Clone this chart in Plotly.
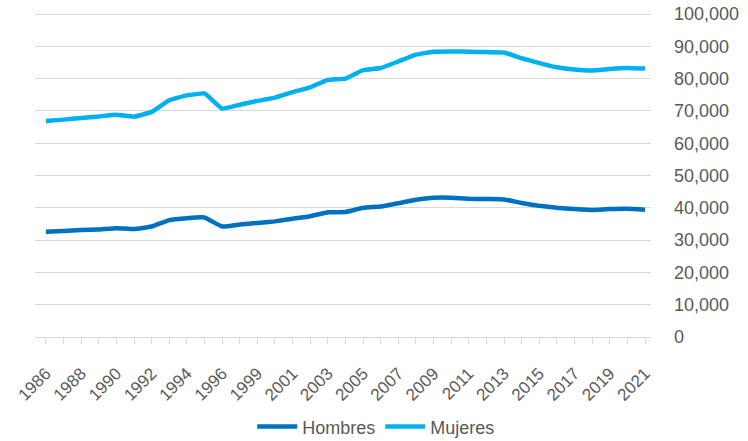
import plotly.graph_objects as go

years = [1986, 1987, 1988, 1989, 1990, 1991, 1992, 1993, 1994, 1995, 1996,
         1998, 1999, 2000, 2001, 2002, 2003, 2004, 2005, 2006, 2007, 2008,
         2009, 2010, 2011, 2012, 2013, 2014, 2015, 2016, 2017, 2018, 2019,
         2020, 2021]

hombres = [32600, 32800, 33100, 33300, 33700, 33400, 34200, 36200, 36800, 37000,
           34200, 34800, 35300, 35800, 36600, 37400, 38600, 38700, 40000, 40400,
           41400, 42500, 43100, 43100, 42800, 42700, 42600, 41500, 40600, 40000,
           39600, 39300, 39600, 39700, 39400]

mujeres = [66900, 67300, 67800, 68300, 68800, 68200, 69700, 73300, 74800, 75400,
           70700, 71900, 73100, 74100, 75800, 77300, 79600, 80000, 82600, 83300,
           85300, 87400, 88300, 88400, 88300, 88200, 88100, 86300, 84800, 83500,
           82800, 82500, 83000, 83300, 83100]

y_ticks = [0, 10000, 20000, 30000, 40000, 50000, 60000, 70000, 80000, 90000, 100000]

color_h = "#0070C0"
color_m = "#00B0F0"
text_color = "#595959"
grid_color = "#D9D9D9"
font_family = "Liberation Sans, Arial, sans-serif"

x_labels = [str(y) for y in years]
tick_text = [lab if i % 2 == 0 else "" for i, lab in enumerate(x_labels)]

fig = go.Figure()
fig.add_trace(go.Scatter(x=x_labels, y=hombres, mode="lines", name="Hombres",
                         line=dict(color=color_h, width=4.5, shape="spline", smoothing=0.3)))
fig.add_trace(go.Scatter(x=x_labels, y=mujeres, mode="lines", name="Mujeres",
                         line=dict(color=color_m, width=4.5, shape="spline", smoothing=0.3)))

fig.update_layout(
    width=748, height=441,
    margin=dict(l=35, r=97, t=12, b=104, autoexpand=False),
    paper_bgcolor="white", plot_bgcolor="white",
    font=dict(family=font_family, color=text_color),
    showlegend=True,
    legend=dict(orientation="h", xref="container", yref="container",
                x=0.503, xanchor="center", y=0.032, yanchor="middle",
                font=dict(size=18, color=text_color),
                itemwidth=40, tracegroupgap=0),
    xaxis=dict(type="category", categoryorder="array", categoryarray=x_labels,
               range=[-0.62, len(years) - 1 + 0.34], automargin=False,
               tickmode="array", tickvals=x_labels, ticktext=tick_text,
               tickangle=-45, tickfont=dict(size=17, color=text_color),
               ticks="outside", ticklen=6, tickcolor=grid_color, tickwidth=1,
               showgrid=False, showline=True, linecolor=grid_color, linewidth=1,
               zeroline=False, ticklabelstandoff=13),
    yaxis=dict(side="right", range=[0, 100620], tickvals=y_ticks, automargin=False,
               tickformat=",d", tickfont=dict(size=18, color=text_color),
               ticklabeloverflow="allow",
               showgrid=True, gridcolor=grid_color, gridwidth=1,
               zeroline=False, showline=False, ticks="",
               ticklabelstandoff=22),
)

fig.write_html("out.html",
               config={"displayModeBar": False},
               post_script="document.body.style.margin='0';document.body.style.padding='0';")
